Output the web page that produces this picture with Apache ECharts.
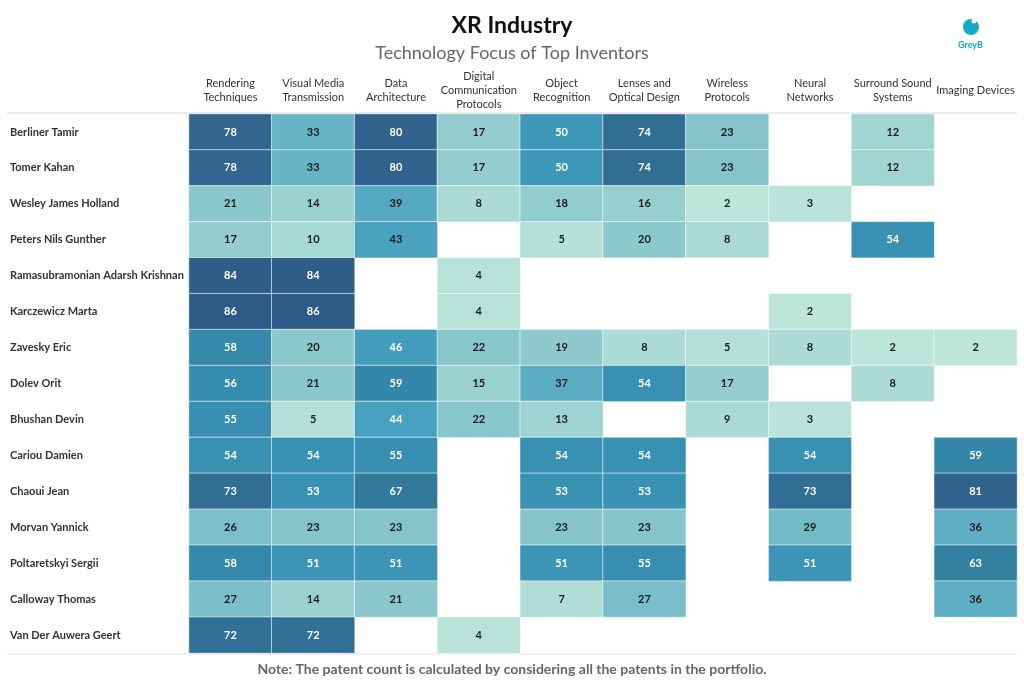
<!DOCTYPE html>
<html>
<head>
<meta charset="utf-8">
<script src="https://cdn.jsdelivr.net/npm/echarts@6/dist/echarts.min.js"></script>
<style>html,body{margin:0;padding:0;background:#fff;}#c{width:1024px;height:683px;}</style>
</head>
<body>
<div id="c"></div>
<script>
const technologies = ['Rendering\nTechniques','Visual Media\nTransmission','Data\nArchitecture','Digital\nCommunication\nProtocols','Object\nRecognition','Lenses and\nOptical Design','Wireless\nProtocols','Neural\nNetworks','Surround Sound\nSystems','Imaging Devices'];
const inventors = ['Berliner Tamir','Tomer Kahan','Wesley James Holland','Peters Nils Gunther','Ramasubramonian Adarsh Krishnan','Karczewicz Marta','Zavesky Eric','Dolev Orit','Bhushan Devin','Cariou Damien','Chaoui Jean','Morvan Yannick','Poltaretskyi Sergii','Calloway Thomas','Van Der Auwera Geert'];
// one array per technology, in inventor order (null = no patents)
const renderingTechniques   = [78,78,21,17,84,86,58,56,55,54,73,26,58,27,72];
const visualMedia           = [33,33,14,10,84,86,20,21,5,54,53,23,51,14,72];
const dataArchitecture      = [80,80,39,43,null,null,46,59,44,55,67,23,51,21,null];
const digitalComm           = [17,17,8,null,4,4,22,15,22,null,null,null,null,null,4];
const objectRecognition     = [50,50,18,5,null,null,19,37,13,54,53,23,51,7,null];
const lensesOptical         = [74,74,16,20,null,null,8,54,null,54,53,23,55,27,null];
const wirelessProtocols     = [23,23,2,8,null,null,5,17,9,null,null,null,null,null,null];
const neuralNetworks        = [null,null,3,null,null,2,8,null,3,54,73,29,51,null,null];
const surroundSound         = [12,12,null,54,null,null,2,8,null,null,null,null,null,null,null];
const imagingDevices        = [null,null,null,null,null,null,2,null,null,59,81,36,63,36,null];
const columns = [renderingTechniques,visualMedia,dataArchitecture,digitalComm,objectRecognition,lensesOptical,wirelessProtocols,neuralNetworks,surroundSound,imagingDevices];

const data = [];
columns.forEach((col, x) => {
  col.forEach((v, y) => {
    if (v !== null) {
      data.push({value: [x, y, v], label: {color: v >= 44 ? '#ffffff' : '#1a1a1a'}});
    }
  });
});

const chart = echarts.init(document.getElementById('c'), null, {renderer: 'canvas'});
chart.setOption({
  backgroundColor: '#ffffff',
  animation: false,
  title: [
    {text: 'XR Industry', left: 'center', top: 9, textStyle: {fontFamily: 'Lato', fontSize: 23, fontWeight: 'bold', color: '#111'}},
    {text: 'Technology Focus of Top Inventors', left: 'center', top: 39, textStyle: {fontFamily: 'Lato', fontSize: 18, fontWeight: 'normal', color: '#666'}},
    {text: 'Note: The patent count is calculated by considering all the patents in the portfolio.', left: 'center', top: 657, textStyle: {fontFamily: 'Lato', fontSize: 14, fontWeight: 'bold', color: '#666'}}
  ],
  grid: {left: 189, right: 7, top: 114, bottom: 30},
  xAxis: {
    type: 'category', data: technologies, position: 'top',
    axisLine: {show: false}, axisTick: {show: false}, splitLine: {show: false},
    axisLabel: {interval: 0, margin: 24, verticalAlign: 'middle', lineHeight: 14, fontFamily: 'Lato', fontSize: 11, color: '#333'}
  },
  yAxis: {
    type: 'category', data: inventors, inverse: true,
    axisLine: {show: false}, axisTick: {show: false}, splitLine: {show: false},
    axisLabel: {interval: 0, align: 'left', margin: 179, fontFamily: 'Lato', fontSize: 11, fontWeight: 'bold', color: '#333'}
  },
  visualMap: {
    show: false, min: 2, max: 86, dimension: 2,
    inRange: {color: ['#bee5da','#9fd4d2','#84c4ca','#66b3c4','#46a1c0','#378fb2','#327c9d','#316a93','#2d5a87']}
  },
  series: [{
    type: 'heatmap',
    data: data,
    label: {show: true, formatter: p => p.value[2], fontFamily: 'Lato', fontSize: 11, fontWeight: 'bold'},
    itemStyle: {borderColor: 'rgba(255,255,255,0.6)', borderWidth: 1},
    emphasis: {disabled: true}
  }],
  graphic: [
    {type: 'line', shape: {x1: 7, y1: 113, x2: 1017, y2: 113}, style: {stroke: '#ebebeb', lineWidth: 2}, z: 10},
    {type: 'line', shape: {x1: 7, y1: 654, x2: 1017, y2: 654}, style: {stroke: '#e3e3e3', lineWidth: 1}, z: 10},
    {type: 'circle', shape: {cx: 971, cy: 27, r: 8}, style: {fill: '#19a9c8'}},
    {type: 'circle', shape: {cx: 974, cy: 21, r: 2.5}, style: {fill: '#ffffff'}},
    {type: 'text', left: 958, top: 41, style: {text: 'GreyB', fill: '#19a9c8', font: 'bold 9px Lato'}}
  ]
});
</script>
</body>
</html>
